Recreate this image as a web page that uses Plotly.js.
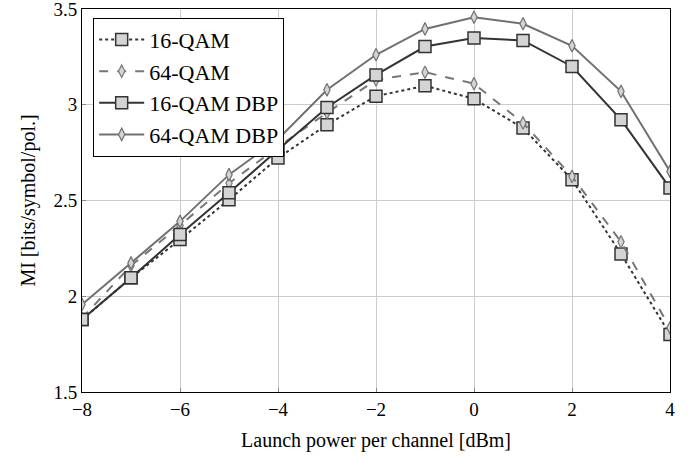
<!DOCTYPE html>
<html>
<head>
<meta charset="utf-8">
<script src="https://cdn.plot.ly/plotly-3.0.1.min.js"></script>
<style>html,body{margin:0;padding:0;background:#fff;}#chart{width:696px;height:457px;}</style>
</head>
<body>
<div id="chart"></div>
<script>
const launchPower = [-8, -7, -6, -5, -4, -3, -2, -1, 0, 1, 2, 3, 4];
const qam16 = [1.878, 2.096, 2.296, 2.504, 2.722, 2.896, 3.045, 3.099, 3.031, 2.878, 2.609, 2.221, 1.800];
const qam64 = [1.885, 2.160, 2.370, 2.590, 2.780, 2.958, 3.130, 3.170, 3.110, 2.905, 2.626, 2.284, 1.835];
const qam16DBP = [1.878, 2.096, 2.322, 2.540, 2.765, 2.986, 3.156, 3.304, 3.348, 3.336, 3.200, 2.922, 2.565];
const qam64DBP = [1.957, 2.174, 2.391, 2.635, 2.820, 3.078, 3.261, 3.396, 3.457, 3.423, 3.308, 3.070, 2.652];
const seriesNames = ["16-QAM", "64-QAM", "16-QAM DBP", "64-QAM DBP"];
const xTicks = [-8, -6, -4, -2, 0, 2, 4];
const yTicks = [1.5, 2, 2.5, 3, 3.5];
const yTickText = ["1.5", "2", "2.5", "3", "3.5"];

const fillGray = "#d4d4d4";
const traces = [
  {x: launchPower, y: qam16, name: seriesNames[0], mode: "lines+markers",
   line: {color: "#333333", width: 2, dash: "dot"},
   marker: {symbol: "square", size: 12, color: fillGray, line: {color: "#333333", width: 1.5}}},
  {x: launchPower, y: qam64, name: seriesNames[1], mode: "lines+markers",
   line: {color: "#777777", width: 2, dash: "dash"},
   marker: {symbol: "diamond-tall", size: 9, color: fillGray, line: {color: "#777777", width: 1.2}}},
  {x: launchPower, y: qam16DBP, name: seriesNames[2], mode: "lines+markers",
   line: {color: "#333333", width: 2},
   marker: {symbol: "square", size: 12, color: fillGray, line: {color: "#333333", width: 1.5}}},
  {x: launchPower, y: qam64DBP, name: seriesNames[3], mode: "lines+markers",
   line: {color: "#707070", width: 2},
   marker: {symbol: "diamond-tall", size: 9, color: fillGray, line: {color: "#707070", width: 1.2}}}
];

const fontFam = "Liberation Serif, Times New Roman, serif";
const layout = {
  width: 696, height: 457,
  margin: {l: 82, r: 26, t: 9, b: 65},
  paper_bgcolor: "#fff", plot_bgcolor: "#fff",
  font: {family: fontFam, size: 19, color: "#000"},
  showlegend: true,
  legend: {x: 0.019, y: 0.977, xanchor: "left", yanchor: "top",
           bgcolor: "#fff", bordercolor: "#000", borderwidth: 1, itemwidth: 45,
           font: {family: fontFam, size: 22, color: "#000"}},
  xaxis: {range: [-8, 4], tickvals: xTicks, showgrid: true, gridcolor: "#cccccc", gridwidth: 1,
          zeroline: false, showline: true, linecolor: "#000", linewidth: 1, mirror: true,
          ticks: "inside", ticklen: 4, tickcolor: "#888", ticklabeloverflow: "allow",
          title: {text: "Launch power per channel [dBm]", font: {family: fontFam, size: 20}, standoff: 14},
          tickfont: {family: fontFam, size: 19}},
  yaxis: {range: [1.5, 3.5], tickvals: yTicks, ticktext: yTickText, showgrid: true, gridcolor: "#cccccc", gridwidth: 1,
          zeroline: false, showline: true, linecolor: "#000", linewidth: 1, mirror: true,
          ticks: "inside", ticklen: 4, tickcolor: "#888", ticklabeloverflow: "allow",
          title: {text: "MI [bits/symbol/pol.]", font: {family: fontFam, size: 20}, standoff: 12},
          tickfont: {family: fontFam, size: 19}}
};
Plotly.newPlot("chart", traces, layout, {displayModeBar: false, staticPlot: true});
</script>
</body>
</html>
